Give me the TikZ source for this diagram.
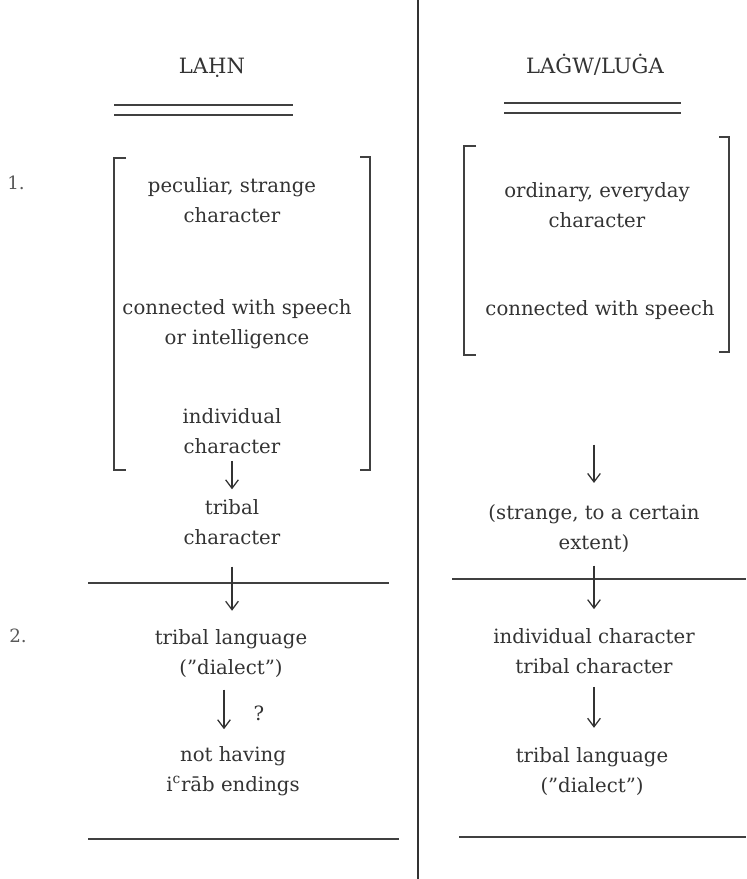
\documentclass[tikz,border=0pt]{standalone}
\usepackage{fontspec}
\setmainfont{DejaVu Serif}
\usetikzlibrary{arrows.meta,positioning}
\tikzset{
    entry/.style={align=center, inner sep=0pt, text=black!80, font=\fontsize{14}{21.3}\selectfont},
    heading/.style={anchor=base, inner sep=0pt, text=black!80, font=\fontsize{15}{18}\selectfont},
    number/.style={anchor=base, inner sep=0pt, text=black!65, font=\fontsize{13}{16}\selectfont},
    flow/.style={-{Straight Barb[length=6pt,width=9pt]}, line width=0.9pt, black!80},
    rule/.style={line width=1.3pt, black!75},
    bracket/.style={line width=1.2pt, black!75}
}

\begin{document}
\begin{tikzpicture}[x=0.025cm, y=-0.025cm]
\useasboundingbox (0,0) rectangle (746,879);

% ----------------------------
% Headings
% ----------------------------
\node[heading] (lahn) at (212,74) {LAḤN};
\node[heading] (lagw) at (595,74) {LAĠW/LUĠA};
\foreach \y in {105,115} {
  \draw[rule] (114,\y) -- (293,\y);
  \draw[rule] (504,\y-2) -- (681,\y-2);
}

% divider between the two columns
\draw[line width=1.6pt, black!80] (418,0) -- (418,879);

\node[number] (n1) at (16,190) {1.};
\node[number] (n2) at (18,642) {2.};

% ----------------------------
% Left column
% ----------------------------
\node[entry] (l1) at (232,200) {peculiar, strange\\character};
\node[entry] (l2) at (237,324) {connected with speech\\or intelligence};
\node[entry] (l3) at (232,431) {individual\\character};
\node[entry] (l4) at (232,522) {tribal\\character};
\node[entry] (l5) at (231,654) {tribal language\\(”dialect”)};
\node[entry] (l6) at (233,771) {not having\\i\textsuperscript{c}rāb endings};
\node[entry, anchor=base] (q) at (259,720) {?};

\draw[bracket] (126,158) -- (114,158) -- (114,470) -- (126,470);
\draw[bracket] (360,157) -- (370,157) -- (370,470) -- (360,470);

% ----------------------------
% Right column
% ----------------------------
\node[entry] (r1) at (597,205) {ordinary, everyday\\character};
\node[entry, anchor=base] (r2) at (600,315) {connected with speech};
\node[entry] (r3) at (594,529) {(strange, to a certain\\extent)};
\node[entry] (r4) at (594,651) {individual character\\tribal character};
\node[entry] (r5) at (592,772) {tribal language\\(”dialect”)};

\draw[bracket] (476,146) -- (464,146) -- (464,355) -- (476,355);
\draw[bracket] (719,137) -- (729,137) -- (729,352) -- (719,352);

% ----------------------------
% Separator lines
% ----------------------------
\draw[rule] (88,583) -- (389,583);
\draw[rule] (452,579) -- (746,579);
\draw[rule] (88,839) -- (399,839);
\draw[rule] (459,837) -- (746,837);

% ----------------------------
% Arrows
% ----------------------------
\draw[flow, shorten <=5pt, shorten >=7pt] (l3.south) -- (l3.south |- l4.north);
\draw[flow, shorten <=15.5pt, shorten >=13.5pt] (l4.south) -- (l4.south |- l5.north);
\draw[flow, shorten <=8pt, shorten >=12pt] ([xshift=-5pt]l5.south) -- ([xshift=-5pt]l5.south |- l6.north);

\draw[flow, shorten <=89pt, shorten >=15.5pt] (r3.north |- r2.south) -- (r3.north);
\draw[flow, shorten <=8.8pt, shorten >=13.5pt] (r3.south) -- (r3.south |- r4.north);
\draw[flow, shorten <=9.2pt, shorten >=14.2pt] (r4.south) -- (r4.south |- r5.north);

\end{tikzpicture}
\end{document}
